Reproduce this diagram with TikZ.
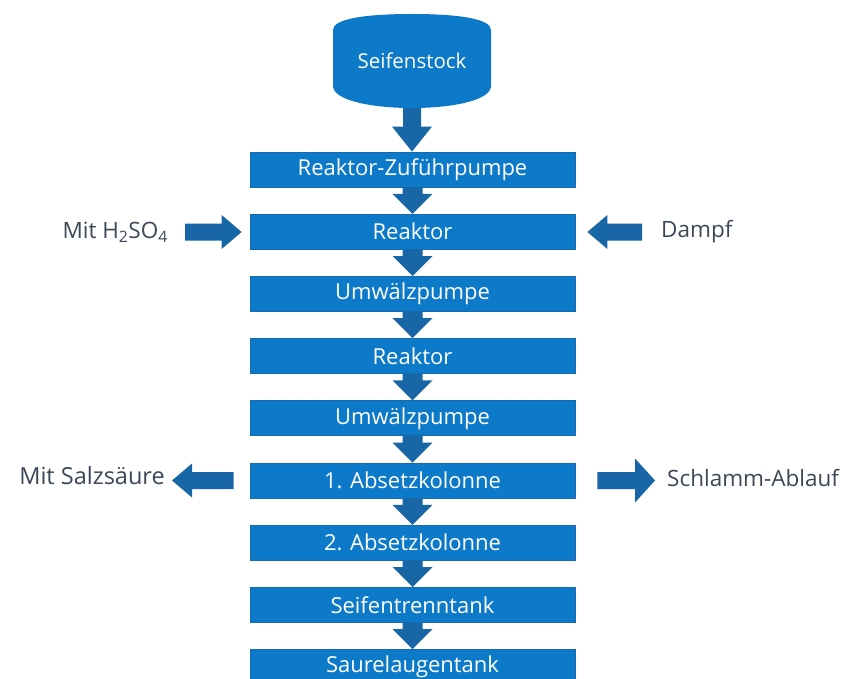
\documentclass[tikz,border=0pt]{standalone}
\usepackage{fontspec}
\setmainfont{Open Sans}
\usetikzlibrary{calc}
\definecolor{boxblue}{RGB}{12,121,201}
\definecolor{boxedge}{RGB}{22,106,176}
\definecolor{arrowblue}{RGB}{24,102,166}
\definecolor{labelgray}{RGB}{60,72,88}

% block arrows between two points (canvas units, 1pt = 1 unit)
% #1 tail, #2 tip, #3 shaft half width, #4 head length, #5 head half width
\newcommand\flowdown[5]{%
  \fill[arrowblue] let \p1=(#1), \p2=(#2) in
    (\x1-#3,\y1) -- (\x1+#3,\y1) -- (\x1+#3,\y2+#4) -- (\x1+#5,\y2+#4) --
    (\x1,\y2) -- (\x1-#5,\y2+#4) -- (\x1-#3,\y2+#4) -- cycle;}
\newcommand\flowright[5]{%
  \fill[arrowblue] let \p1=(#1), \p2=(#2) in
    (\x1,\y1+#3) -- (\x2-#4,\y1+#3) -- (\x2-#4,\y1+#5) -- (\x2,\y1) --
    (\x2-#4,\y1-#5) -- (\x2-#4,\y1-#3) -- (\x1,\y1-#3) -- cycle;}
\newcommand\flowleft[5]{%
  \fill[arrowblue] let \p1=(#1), \p2=(#2) in
    (\x1,\y1+#3) -- (\x2+#4,\y1+#3) -- (\x2+#4,\y1+#5) -- (\x2,\y1) --
    (\x2+#4,\y1-#5) -- (\x2+#4,\y1-#3) -- (\x1,\y1-#3) -- cycle;}

\tikzset{
  stepbox/.style={fill=boxblue, draw=boxedge, line width=0.8pt,
    minimum width=325pt, minimum height=35pt, inner sep=0pt,
    text=white, font=\fontsize{22}{26}\selectfont},
  sidelabel/.style={inner sep=0pt, text=labelgray,
    font=\fontsize{22.5}{27}\selectfont},
}

\begin{document}
\begin{tikzpicture}[x=1pt, y=-1pt]
\useasboundingbox (0,0) rectangle (843,679);
\clip (0,0) rectangle (843,679);
\fill[white] (0,0) rectangle (843,679);

% storage vessel
\fill[boxblue] (333,30) -- (333,86)
  .. controls (333,100) and (370,108) .. (412,108)
  .. controls (454,108) and (491,100) .. (491,86) -- (491,30)
  .. controls (491,19) and (460,14) .. (412,14)
  .. controls (364,14) and (333,19) .. (333,30) -- cycle;
\node[inner sep=0pt, minimum height=94pt, text=white,
  font=\fontsize{20.5}{24}\selectfont] (stock) at (412,61) {Seifenstock};

% process chain
\node[stepbox] (b1) at (412.5,169.5) {Reaktor-Zuführpumpe};
\node[stepbox] (b2) at (412.5,231.7) {Reaktor};
\node[stepbox] (b3) at (412.5,293.9) {Umwälzpumpe};
\node[stepbox] (b4) at (412.5,356.1) {Reaktor};
\node[stepbox] (b5) at (412.5,418.3) {Umwälzpumpe};
\node[stepbox] (b6) at (412.5,480.5) {1. Absetzkolonne};
\node[stepbox] (b7) at (412.5,542.7) {2. Absetzkolonne};
\node[stepbox] (b8) at (412.5,604.9) {Seifentrenntank};
\node[stepbox] (b9) at (412.5,667.1) {Saurelaugentank};

% side streams
\node[sidelabel, anchor=east] (lacid) at (168,232) {Mit H\textsubscript{2}SO\textsubscript{4}};
\node[sidelabel, anchor=west] (lsteam) at (661,232) {Dampf};
\node[sidelabel, anchor=east, font=\fontsize{23.5}{28}\selectfont] (lhcl) at (165,476) {Mit Salzsäure};
\node[sidelabel, anchor=west] (lsludge) at (667,478) {Schlamm-Ablauf};

% flow arrows
\flowdown{stock.south}{b1.north}{9pt}{25pt}{20pt}
\foreach \a/\b in {b1/b2,b2/b3,b3/b4,b4/b5,b5/b6,b6/b7,b7/b8,b8/b9}
  \flowdown{\a.south}{\b.north}{10pt}{20pt}{20pt};

\flowright{$(lacid.east)+(17,0)$}{$(b2.west)+(-8,0)$}{8.5pt}{20pt}{17pt}
\flowleft{$(lsteam.west)+(-19,0)$}{$(b2.east)+(12,0)$}{8.5pt}{20pt}{17pt}
\flowleft{$(b6.west)+(-16,0)$}{$(lhcl.east)+(7,3)$}{8.5pt}{20pt}{17pt}
\flowright{$(b6.east)+(22,0)$}{$(lsludge.west)+(-12,2)$}{8.5pt}{20pt}{22pt}
\end{tikzpicture}
\end{document}
